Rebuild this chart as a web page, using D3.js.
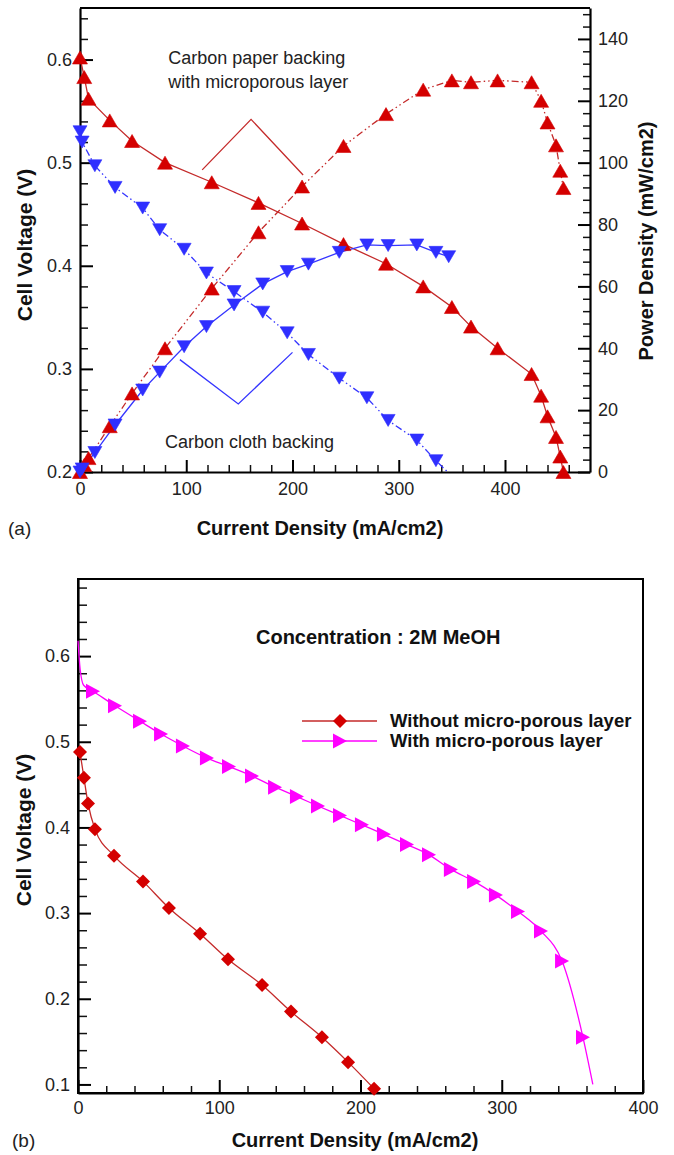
<!DOCTYPE html>
<html><head><meta charset="utf-8">
<script src="https://cdn.jsdelivr.net/npm/d3@7"></script>
<style>body{margin:0;background:#fff}svg{display:block}text{font-family:"Liberation Sans",Arial,sans-serif}</style>
</head><body><svg id="c" width="674" height="1155"></svg>
<script>
// ---------- DATA: panel (a) ----------
const paperCurrent = [0,4,8,28,49,80,124,168,209,248,288,323,350,368,393,425,434,440,448,452,455];
const paperVoltage = [0.602,0.583,0.562,0.541,0.521,0.500,0.481,0.461,0.441,0.421,0.402,0.380,0.360,0.341,0.320,0.295,0.274,0.254,0.234,0.215,0.200];
const paperPower   = [0,2.3,4.5,14.8,25.4,40.0,59.3,77.5,92.3,105.4,115.7,123.6,126.6,126.0,126.6,126.0,120.0,113.0,105.6,97.4,91.8];
const clothCurrent = [0,2,14,33,59,75,98,119,145,172,195,215,244,270,290,317,335,347];
const clothVoltage = [0.530,0.520,0.497,0.476,0.456,0.435,0.416,0.393,0.375,0.355,0.335,0.314,0.291,0.272,0.250,0.231,0.211,0.199];
const clothPower   = [0,1.0,6.3,15.2,26.5,32.3,40.5,47.0,54.0,60.8,64.8,67.2,71.0,73.4,73.2,73.4,71.0,69.6];
const aXTicks = [0,100,200,300,400];
const aVTicks = [0.2,0.3,0.4,0.5,0.6];
const aPTicks = [0,20,40,60,80,100,120,140];

// ---------- DATA: panel (b) ----------
const noMplCurrent = [1.4,4.2,7.1,12,25.5,46,64.4,86.4,106.2,130.3,150.8,172.7,191.2,209.6];
const noMplVoltage = [0.488,0.458,0.428,0.398,0.367,0.337,0.306,0.276,0.246,0.216,0.185,0.155,0.126,0.095];
const mplCurrent = [10.6,26.2,43.9,58.8,74.3,91.3,106.9,123.2,139.5,155,169.9,185.5,201,216.6,232.9,248.5,264,280.4,295.9,311.5,327.8,342.7,357.5];
const mplVoltage = [0.559,0.542,0.524,0.509,0.495,0.481,0.471,0.460,0.447,0.436,0.425,0.414,0.403,0.392,0.380,0.368,0.351,0.337,0.321,0.302,0.279,0.244,0.155];
const mplHeadCurrent = [0,1.5,4];       // fitted curve before first symbol
const mplHeadVoltage = [0.618,0.585,0.566];
const mplTailCurrent = [364.5];         // fitted curve after last symbol
const mplTailVoltage = [0.1];
const bXTicks = [0,100,200,300,400];
const bVTicks = [0.1,0.2,0.3,0.4,0.5,0.6];

const RED="#d40000", REDL="#c42a2a", BLUE="#2f2fff", BLUEL="#3535ff", MAG="#ff00ff";

const svg = d3.select("#c");
const zip = (xs, ys) => xs.map((x,i)=>[x, ys[i]]);
const range = (a,b,s) => d3.range(Math.round((b-a)/s)+1).map(i=>+(a+i*s).toFixed(4));

function addAxis(orient, scale, majors, minors, tr, fmt, pad, majLen, minLen, fs){
  const mk = {left:d3.axisLeft, right:d3.axisRight, bottom:d3.axisBottom}[orient];
  const gm = svg.append("g").attr("transform", tr)
    .call(mk(scale).tickValues(minors.filter(v=>!majors.some(m=>Math.abs(m-v)<1e-9))).tickSize(-minLen).tickSizeOuter(0).tickFormat(""));
  gm.select(".domain").remove();
  gm.selectAll(".tick line").attr("stroke","#111").attr("stroke-width",1.5);
  const g = svg.append("g").attr("transform", tr)
    .call(mk(scale).tickValues(majors).tickSize(-majLen).tickSizeOuter(0).tickFormat(fmt).tickPadding(pad));
  g.select(".domain").attr("stroke","#000").attr("stroke-width",2.2);
  g.selectAll(".tick line").attr("stroke","#000").attr("stroke-width",2);
  g.selectAll(".tick text").attr("font-size",fs).attr("fill","#222")
    .attr("font-family",'"Liberation Sans",Arial,sans-serif');
  return g;
}
const triUp = (w,h)=>`M${-w/2},${h/2}L${w/2},${h/2}L0,${-h/2}Z`;
const triDown = (w,h)=>`M${-w/2},${-h/2}L${w/2},${-h/2}L0,${h/2}Z`;
const triRight = (w,h)=>`M${-h/2},${-w/2}L${-h/2},${w/2}L${h/2},0Z`;
const diamond = s=>`M0,${-s}L${s},0L0,${s}L${-s},0Z`;

// ================= PANEL (a) =================
const A = {l:80, r:590, t:8, b:472};
const xA = d3.scaleLinear().domain([0,480]).range([A.l,A.r]);
const yAV = d3.scaleLinear().domain([0.2,0.65]).range([A.b,A.t]);
const yAP = d3.scaleLinear().domain([0,150]).range([A.b,A.t]);

svg.append("clipPath").attr("id","clipA").append("rect")
  .attr("x",A.l).attr("y",A.t).attr("width",A.r-A.l).attr("height",A.b-A.t);

// top frame
svg.append("line").attr("x1",A.l).attr("x2",A.r).attr("y1",A.t).attr("y2",A.t)
  .attr("stroke","#000").attr("stroke-width",2.2);
addAxis("left", yAV, aVTicks, range(0.2,0.64,0.02), `translate(${A.l},0)`, d3.format(".1f"), 8, 13, 8, 18);
addAxis("right", yAP, aPTicks, range(0,148,4), `translate(${A.r},0)`, d3.format("d"), 8, 12, 7, 18);
addAxis("bottom", xA, aXTicks, range(0,460,20), `translate(0,${A.b})`, d3.format("d"), 10, 12, 7, 18);

const linA = (ys)=>d3.line().x(d=>xA(d[0])).y(d=>ys(d[1]));
const gA = svg.append("g");
const seriesA = [
  {pts:zip(paperCurrent,paperVoltage), y:yAV, col:REDL, dash:null, fill:RED, shape:triUp(15,13)},
  {pts:zip(paperCurrent,paperPower), y:yAP, col:REDL, dash:"7,3,1.5,3,1.5,3", fill:RED, shape:triUp(15,13)},
  {pts:zip(clothCurrent,clothVoltage), y:yAV, col:BLUEL, dash:"7,3,1.5,3,1.5,3", fill:BLUE, shape:triDown(14,12)},
  {pts:zip(clothCurrent,clothPower), y:yAP, col:BLUEL, dash:null, fill:BLUE, shape:triDown(14,12)}
];
seriesA.forEach(s=>{
  gA.append("path").datum(s.pts).attr("d",linA(s.y)).attr("fill","none")
    .attr("stroke",s.col).attr("stroke-width",1.3).attr("stroke-dasharray",s.dash)
    .attr("clip-path","url(#clipA)");
});
seriesA.forEach(s=>{
  const dom = s.y.domain();
  gA.append("g").selectAll("path").data(s.pts.filter(p=>p[1]>=dom[0]-1e-9&&p[1]<=dom[1]))
    .join("path").attr("d",s.shape)
    .attr("transform",d=>`translate(${xA(d[0])},${s.y(d[1])})`)
    .attr("fill",s.fill).attr("stroke",s.fill).attr("stroke-width",0.6);
});

// annotations (a)
const annA = svg.append("g").attr("font-size",18).attr("fill","#222");
annA.append("text").attr("x",xA(83)).attr("y",yAV(0.602)).attr("dy","0.35em").text("Carbon paper backing");
annA.append("text").attr("x",xA(83)).attr("y",yAV(0.579)).attr("dy","0.35em").text("with microporous layer");
annA.append("text").attr("x",xA(80)).attr("y",yAV(0.229)).attr("dy","0.35em").text("Carbon cloth backing");
const lineV = d3.line().x(d=>xA(d[0])).y(d=>yAV(d[1]));
svg.append("path").datum([[115,0.493],[161,0.542],[210,0.488]]).attr("d",lineV)
  .attr("fill","none").attr("stroke",REDL).attr("stroke-width",1.3);
svg.append("path").datum([[94,0.309],[149,0.266],[200,0.316]]).attr("d",lineV)
  .attr("fill","none").attr("stroke",BLUEL).attr("stroke-width",1.3);

// titles (a)
svg.append("text").attr("x",8).attr("y",528).attr("dy","0.35em").attr("font-size",19).attr("fill","#222").text("(a)");
svg.append("text").attr("x",(A.l+A.r)/2-15).attr("y",528).attr("dy","0.35em").attr("text-anchor","middle")
  .attr("font-size",20).attr("font-weight","bold").attr("fill","#111").text("Current Density (mA/cm2)");
svg.append("text").attr("transform",`translate(25,245) rotate(-90)`).attr("dy","0.35em").attr("text-anchor","middle")
  .attr("font-size",21).attr("font-weight","bold").attr("fill","#111").text("Cell Voltage (V)");
svg.append("text").attr("transform",`translate(646,241) rotate(-90)`).attr("dy","0.35em").attr("text-anchor","middle")
  .attr("font-size",20).attr("font-weight","bold").attr("fill","#111").text("Power Density (mW/cm2)");

// ================= PANEL (b) =================
const B = {l:78, r:643, t:579, b:1093};
const xB = d3.scaleLinear().domain([0,400]).range([B.l,B.r]);
const yB = d3.scaleLinear().domain([0.09,0.69]).range([B.b,B.t]);

svg.append("clipPath").attr("id","clipB").append("rect")
  .attr("x",B.l).attr("y",B.t).attr("width",B.r-B.l).attr("height",B.b-B.t);

svg.append("rect").attr("x",B.l).attr("y",B.t).attr("width",B.r-B.l).attr("height",B.b-B.t)
  .attr("fill","none").attr("stroke","#000").attr("stroke-width",2);
addAxis("left", yB, bVTicks, range(0.1,0.68,0.02), `translate(${B.l},0)`, d3.format(".1f"), 8, 13, 9, 18);
addAxis("bottom", xB, bXTicks, range(0,380,20), `translate(0,${B.b})`, d3.format("d"), 8, 13, 7, 18);

const linB = d3.line().x(d=>xB(d[0])).y(d=>yB(d[1])).curve(d3.curveMonotoneX);
const noPts = zip(noMplCurrent,noMplVoltage);
const mPts = zip(mplCurrent,mplVoltage);
const mLine = zip(mplHeadCurrent,mplHeadVoltage).concat(mPts, zip(mplTailCurrent,mplTailVoltage));
svg.append("path").datum(noPts).attr("d",linB).attr("fill","none").attr("stroke",REDL).attr("stroke-width",1.3);
svg.append("path").datum(mLine).attr("d",linB).attr("fill","none").attr("stroke",MAG).attr("stroke-width",1.3);
svg.append("g").selectAll("path").data(noPts).join("path").attr("d",diamond(7))
  .attr("transform",d=>`translate(${xB(d[0])},${yB(d[1])})`).attr("fill",RED);
svg.append("g").selectAll("path").data(mPts).join("path").attr("d",triRight(15,14))
  .attr("transform",d=>`translate(${xB(d[0])},${yB(d[1])})`).attr("fill",MAG);

// annotation + legend (b)
svg.append("text").attr("x",xB(126)).attr("y",yB(0.622)).attr("dy","0.35em")
  .attr("font-size",20).attr("font-weight","bold").attr("fill","#111").text("Concentration : 2M MeOH");
const legend = [
  {label:"Without micro-porous layer", col:REDL, fill:RED, shape:diamond(7)},
  {label:"With micro-porous layer", col:MAG, fill:MAG, shape:triRight(15,14)}
];
const lg = svg.append("g").attr("transform","translate(302,721)");
legend.forEach((d,i)=>{
  const r = lg.append("g").attr("transform",`translate(0,${i*20})`);
  r.append("line").attr("x1",0).attr("x2",75).attr("stroke",d.col).attr("stroke-width",1.3);
  r.append("path").attr("d",d.shape).attr("transform","translate(38,0)").attr("fill",d.fill);
  r.append("text").attr("x",88).attr("dy","0.35em").attr("font-size",18.5).attr("font-weight","bold")
    .attr("fill","#111").text(d.label);
});

// titles (b)
svg.append("text").attr("x",12).attr("y",1140).attr("dy","0.35em").attr("font-size",19).attr("fill","#222").text("(b)");
svg.append("text").attr("x",355).attr("y",1140).attr("dy","0.35em").attr("text-anchor","middle")
  .attr("font-size",20).attr("font-weight","bold").attr("fill","#111").text("Current Density (mA/cm2)");
svg.append("text").attr("transform",`translate(24,830) rotate(-90)`).attr("dy","0.35em").attr("text-anchor","middle")
  .attr("font-size",21).attr("font-weight","bold").attr("fill","#111").text("Cell Voltage (V)");
</script></body></html>
